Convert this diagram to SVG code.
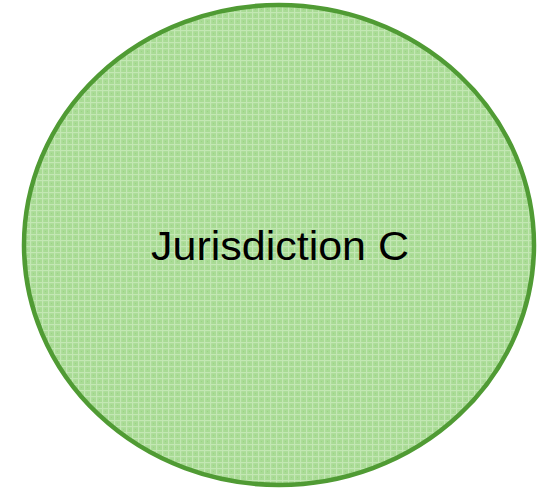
<svg xmlns="http://www.w3.org/2000/svg" width="540" height="488" viewBox="0 0 540 488">
<style>
.lbl{font-family:"Liberation Sans","Arial",sans-serif;font-size:40px;fill:#000}
.node{stroke:#509b34;stroke-width:4.5}
</style>
<defs>
<pattern id="grid" width="6" height="6" patternUnits="userSpaceOnUse">
<rect width="6" height="6" fill="#a9db95"/>
<rect x="0" y="0" width="6" height="1.2" fill="#c3e7b4"/>
<rect x="0" y="0" width="1.2" height="6" fill="#c3e7b4"/>
<rect x="3" y="3" width="1" height="1" fill="#9cd486"/>
</pattern>
</defs>
<rect width="540" height="488" fill="#ffffff"/>
<g id="jurisdiction-c">
<ellipse class="node" cx="279" cy="245" rx="255" ry="240" fill="url(#grid)"/>
<text class="lbl" x="151" y="260" textLength="258" lengthAdjust="spacingAndGlyphs">Jurisdiction C</text>
</g>
<g id="connectors"/>
</svg>
